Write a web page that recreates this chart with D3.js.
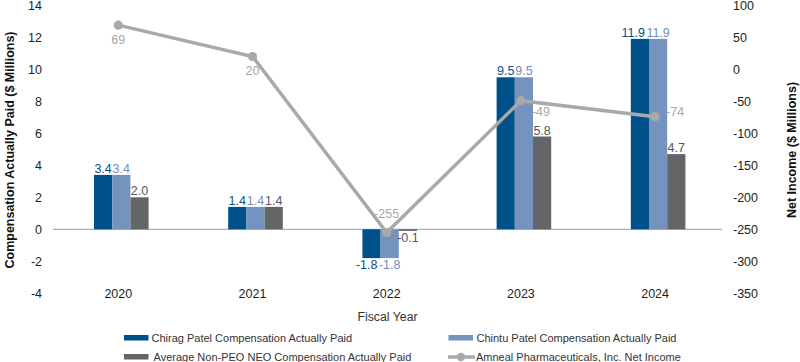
<!DOCTYPE html>
<html><head><meta charset="utf-8">
<script src="https://cdn.jsdelivr.net/npm/d3@7/dist/d3.min.js"></script>
<style>
html,body{margin:0;padding:0;background:#fff;}
svg{display:block;font-family:"Liberation Sans",Arial,Helvetica,sans-serif;}
</style></head>
<body><svg id="c" width="800" height="362"></svg>
<script>
const years = ["2020","2021","2022","2023","2024"];
const chirag = [3.4, 1.4, -1.8, 9.5, 11.9];
const chintu = [3.4, 1.4, -1.8, 9.5, 11.9];
const nonPeo = [2.0, 1.4, -0.1, 5.8, 4.7];
const netIncome = [69, 20, -255, -49, -74];
const leftTicks = [14,12,10,8,6,4,2,0,-2,-4];
const rightTicks = [100,50,0,-50,-100,-150,-200,-250,-300,-350];
const seriesNames = ["Chirag Patel Compensation Actually Paid","Chintu Patel Compensation Actually Paid","Average Non-PEO NEO Compensation Actually Paid","Amneal Pharmaceuticals, Inc. Net Income"];

const colors = ["#00508a","#7593bf","#646567"];
const labelColors = ["#0a4f85","#6f8fbb","#555659"];
const lineColor = "#a8a9ab";

const svg = d3.select("#c");
const x = d3.scaleBand().domain(years).range([51.2, 722.2]).padding(0);
const yL = d3.scaleLinear().domain([-4,14]).range([293.3,5.3]);
const yR = d3.scaleLinear().domain([-350,100]).range([293.3,5.3]);

// left ticks
svg.append("g").selectAll("text").data(leftTicks).join("text")
  .attr("x",42).attr("y",d=>yL(d)+4.5).attr("text-anchor","end")
  .attr("font-size",12.5).attr("fill","#231f20").text(d=>d);
// right ticks
svg.append("g").selectAll("text").data(rightTicks).join("text")
  .attr("x",733).attr("y",d=>yR(d)+4.5).attr("text-anchor","start")
  .attr("font-size",12.5).attr("fill","#231f20").text(d=>d);
// year labels
svg.append("g").selectAll("text").data(years).join("text")
  .attr("x",d=>x(d)+x.bandwidth()/2).attr("y",yL(-4)+4.5).attr("text-anchor","middle")
  .attr("font-size",12.5).attr("fill","#231f20").text(d=>d);

// zero line
svg.append("line").attr("x1",53).attr("x2",722).attr("y1",yL(0)).attr("y2",yL(0))
  .attr("stroke","#9a9a9a").attr("stroke-width",1);

// bars
const series = [chirag, chintu, nonPeo];
const bw = 18.2, off = -24.3;
const labelSel = [];
series.forEach((s,si)=>{
  const g = svg.append("g");
  g.selectAll("rect").data(s).join("rect")
    .attr("x",(d,i)=>x(years[i])+x.bandwidth()/2+off+si*bw)
    .attr("width",bw)
    .attr("y",d=>Math.min(yL(d),yL(0)))
    .attr("height",d=>Math.abs(yL(d)-yL(0)))
    .attr("fill",colors[si]);
  labelSel.push(g.selectAll("text").data(s).join("text")
    .attr("x",(d,i)=>x(years[i])+x.bandwidth()/2+off+si*bw+bw/2)
    .attr("y",d=> d>=0 ? yL(d)-2 : yL(d)+11)
    .attr("text-anchor","middle").attr("font-size",12.5)
    .attr("fill",labelColors[si]).text(d=>d.toFixed(1)));
});
// resolve collisions: push first series label left if it hits the second
const n0 = labelSel[0].nodes(), n1 = labelSel[1].nodes();
n0.forEach((t0,i)=>{
  const t1 = n1[i];
  const w0 = t0.getComputedTextLength(), w1 = t1.getComputedTextLength();
  const x0 = +t0.getAttribute("x"), x1 = +t1.getAttribute("x");
  const overlap = (x0 + w0/2) - (x1 - w1/2) + 1.5;
  if (overlap > 1.5 && w0 > bw) t0.setAttribute("x", x0 - overlap);
});

// line
const cx = i => x(years[i])+x.bandwidth()/2;
svg.append("path").datum(netIncome)
  .attr("d",d3.line().x((d,i)=>cx(i)).y(d=>yR(d)))
  .attr("fill","none").attr("stroke",lineColor).attr("stroke-width",3.5);
svg.append("g").selectAll("circle").data(netIncome).join("circle")
  .attr("cx",(d,i)=>cx(i)).attr("cy",d=>yR(d)).attr("r",4.6).attr("fill",lineColor);
// line labels: placement by neighbor geometry
const place = (i)=>{
  const d = netIncome[i];
  const prev = i>0 ? netIncome[i-1] : null;
  const next = i<netIncome.length-1 ? netIncome[i+1] : null;
  if (prev!==null && next!==null && d<prev && d<next) return "above";
  if (i>=3) return "right";
  return "below";
};
svg.append("g").selectAll("text").data(netIncome).join("text")
  .attr("x",(d,i)=>{const p=place(i); return p==="right"? cx(i)+11 : cx(i);})
  .attr("y",(d,i)=>{const p=place(i); const y=yR(d);
     if(p==="below") return y+18.5;
     if(p==="above") return y-15;
     return i===3 ? y+15 : y-1;})
  .attr("text-anchor",(d,i)=>place(i)==="right"?"start":"middle")
  .attr("font-size",12.5).attr("fill","#a6a6a8").text(d=>d);

// axis titles
svg.append("text").attr("transform","translate(13.5,150) rotate(-90)")
  .attr("text-anchor","middle").attr("font-size",12.5).attr("font-weight","bold")
  .attr("fill","#111").text("Compensation Actually Paid ($ Millions)");
svg.append("text").attr("transform","translate(795.5,150) rotate(-90)")
  .attr("text-anchor","middle").attr("font-size",12.5).attr("font-weight","bold")
  .attr("fill","#111").text("Net Income ($ Millions)");
svg.append("text").attr("x",387.5).attr("y",321).attr("text-anchor","middle")
  .attr("font-size",12.3).attr("fill","#333").text("Fiscal Year");

// legend
const leg = [
  {x:124, y:337.5, type:"bar", c:colors[0], t:seriesNames[0], tx:151.5},
  {x:448.5, y:337.5, type:"bar", c:colors[1], t:seriesNames[1], tx:476.5},
  {x:124, y:356.5, type:"bar", c:colors[2], t:seriesNames[2], tx:153.5},
  {x:448, y:357, type:"line", c:lineColor, t:seriesNames[3], tx:476}
];
const lg = svg.append("g");
leg.forEach(l=>{
  if(l.type==="bar"){
    lg.append("rect").attr("x",l.x).attr("y",l.y-2.5).attr("width",24.5).attr("height",5.5).attr("fill",l.c);
  } else {
    lg.append("line").attr("x1",l.x).attr("x2",l.x+27).attr("y1",l.y).attr("y2",l.y)
      .attr("stroke",l.c).attr("stroke-width",3.5);
    lg.append("circle").attr("cx",l.x+13).attr("cy",l.y).attr("r",4.2).attr("fill",l.c);
  }
  lg.append("text").attr("x",l.tx).attr("y",l.y+4).attr("font-size",11)
    .attr("fill","#333").text(l.t);
});
</script></body></html>
